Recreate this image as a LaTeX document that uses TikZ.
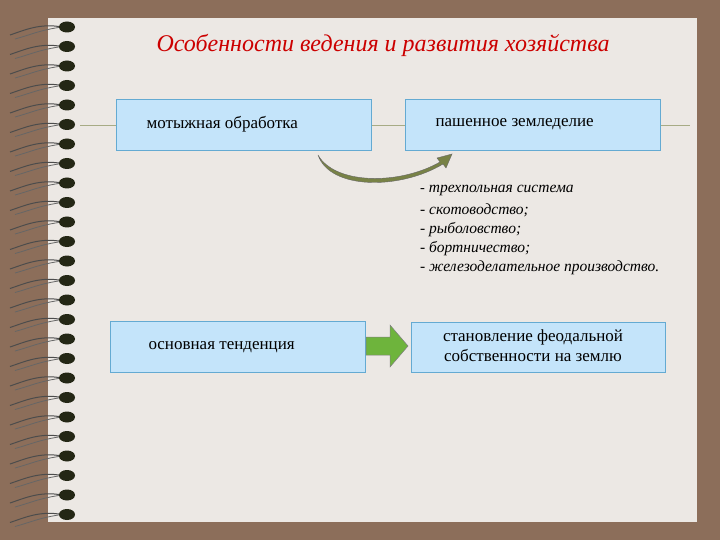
\documentclass[tikz,border=0pt]{standalone}
\usepackage{fontspec}
\setmainfont{Liberation Serif}
\usetikzlibrary{arrows.meta}
\definecolor{bgbrown}{RGB}{140,110,90}
\definecolor{paper}{RGB}{236,232,228}
\definecolor{boxfill}{RGB}{196,228,250}
\definecolor{boxline}{RGB}{100,170,210}
\definecolor{olive}{RGB}{120,130,70}
\definecolor{arrgreen}{RGB}{110,180,60}
\tikzset{
  bluebox/.style={draw=boxline,fill=boxfill,line width=0.8pt,minimum height=51pt,inner sep=0pt},
  boxtext/.style={font=\fontsize{17}{20}\selectfont}
}
\begin{document}
\begin{tikzpicture}[x=1pt,y=-1pt]
\useasboundingbox (0,0) rectangle (720,540);
\fill[bgbrown] (0,0) rectangle (720,540);
\fill[paper] (48,18) rectangle (697,522);
\foreach \i in {0,...,25}{
  \pgfmathsetmacro{\yy}{27+19.5*\i}
  \draw[black!70,line width=1pt] (62,\yy) .. controls (40,\yy-4) and (25,\yy+3) .. (10,\yy+8);
  \draw[black!60,line width=0.8pt] (62,\yy) .. controls (40,\yy+3) and (30,\yy+8) .. (15,\yy+12);
  \fill[black!70!olive] (67,\yy) ellipse (8pt and 5.5pt);
}
\node[text=red!80!black,font=\fontsize{24}{28}\selectfont\itshape] (title) at (383,45) {Особенности ведения и развития хозяйства};
\draw[olive!60!paper,line width=0.8pt] (80,125) -- (690,125);
\node[bluebox,minimum width=255pt] (b1) at (243.5,124.5) {};
\node[boxtext,anchor=west] (t1) at (143,124.5) {мотыжная обработка};
\node[bluebox,minimum width=255pt] (b2) at (532.5,124.5) {};
\node[boxtext,anchor=west] (t2) at (432,124.5) {пашенное земледелие};
\coordinate (ca) at (318,155);
\fill[olive,draw=black!60,line width=0.4pt] (ca) .. controls (335,185) and (400,185) .. (440,162)
  -- (437,158) -- (452,154) -- (446,168) -- (443,164)
  .. controls (400,190) and (330,190) .. (ca) -- cycle;
\node[anchor=north west,font=\fontsize{15.5}{19}\selectfont\itshape,align=left,inner sep=0pt] (list) at (420,185)
{\textup{\Large -} трехпольная система\\[3pt] - скотоводство;\\ - рыболовство;\\ - бортничество;\\ - железоделательное производство.};
\node[bluebox,minimum width=255pt] (b3) at (237.5,346.5) {};
\node[boxtext,anchor=west] (t3) at (145,347) {основная тенденция};
\node[bluebox,minimum width=254pt,minimum height=50pt] (b4) at (538,347) {};
\node[boxtext,align=center] (t4) at (533,346) {становление феодальной\\собственности на землю};
\fill[arrgreen,draw=black!50,line width=0.5pt] (366,337) -- (390,337) -- (390,325) -- (408,346) -- (390,367) -- (390,355) -- (366,355) -- cycle;
\end{tikzpicture}
\end{document}
